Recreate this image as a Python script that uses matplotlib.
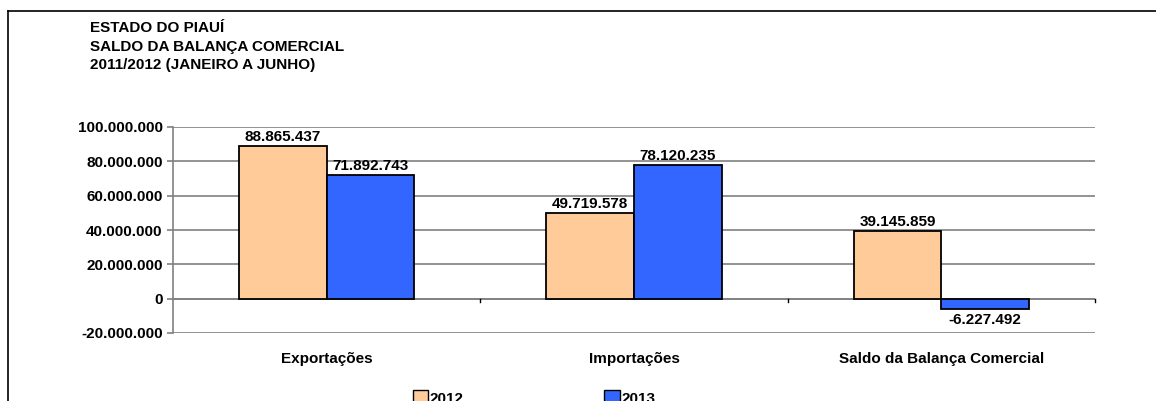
import matplotlib.pyplot as plt
import numpy as np
from matplotlib.ticker import FuncFormatter

plt.rcParams['font.family'] = ['Liberation Sans', 'DejaVu Sans']

categorias = ["Exportações", "Importações", "Saldo da Balança Comercial"]
anos = ["2012", "2013"]
valores_2012 = [88865437, 49719578, 39145859]
valores_2013 = [71892743, 78120235, -6227492]
titulo = ["ESTADO DO PIAUÍ", "SALDO DA BALANÇA COMERCIAL", "2011/2012 (JANEIRO A JUNHO)"]

cores = ["#FFCC99", "#3366FF"]


def fmt_br(v, pos=None):
    # separador de milhar com ponto
    return f"{int(v):,}".replace(",", ".")


fig = plt.figure(figsize=(11.56, 4.01), dpi=100)
ax = fig.add_axes([173 / 1156, 1 - 333 / 401, (1095 - 173) / 1156, (333 - 127) / 401])

x = np.arange(len(categorias))
width = 0.285
b1 = ax.bar(x - width / 2, valores_2012, width, color=cores[0], edgecolor="black",
            linewidth=1.3, label=anos[0], zorder=3)
b2 = ax.bar(x + width / 2, valores_2013, width, color=cores[1], edgecolor="black",
            linewidth=1.3, label=anos[1], zorder=3)

for rects in (b1, b2):
    for r in rects:
        v = r.get_height()
        cx = r.get_x() + r.get_width() / 2
        if v >= 0:
            ax.text(cx, v + 1.2e6, fmt_br(v), ha="center", va="bottom",
                    fontsize=11, fontweight="bold")
        else:
            ax.text(cx, v - 2.4e6, fmt_br(v), ha="center", va="top",
                    fontsize=11, fontweight="bold")

ax.set_xlim(-0.5, 2.5)
ax.set_ylim(-20000000, 100000000)
ax.set_yticks(np.arange(-20000000, 100000001, 20000000))
ax.yaxis.set_major_formatter(FuncFormatter(fmt_br))
ax.grid(axis="y", color="#808080", linewidth=1.2, zorder=0)

for s in ["top", "right", "bottom"]:
    ax.spines[s].set_visible(False)
ax.spines["left"].set_color("#808080")
ax.spines["left"].set_linewidth(1.2)
ax.axhline(0, color="#808080", linewidth=1.2, zorder=1)

ax.set_xticks(x)
ax.set_xticklabels(categorias, fontsize=11, fontweight="bold")
ax.tick_params(axis="x", length=0, pad=14)
ax.tick_params(axis="y", length=4, color="#808080", labelsize=11, width=1.2)
for t in ax.get_yticklabels():
    t.set_fontweight("bold")

# marcas entre categorias na linha do zero
for xb in [0.5, 1.5, 2.5]:
    ax.plot([xb, xb], [0, -2200000], color="black", linewidth=1, zorder=2, clip_on=False)

for i, linha in enumerate(titulo):
    fig.text(90 / 1156, 1 - (27.5 + i * 19) / 401, linha, fontsize=11,
             fontweight="bold", va="center")

# legenda
handles = [plt.Rectangle((0, 0), 1, 1, facecolor=c, edgecolor="black") for c in cores]
fig.legend(handles, anos, loc="center", bbox_to_anchor=(534 / 1156, 1 - 398 / 401),
           ncol=2, frameon=False, prop={"weight": "bold", "size": 11},
           handlelength=1.0, handleheight=1.0, handletextpad=0.1, columnspacing=9.2)

# moldura
fig.add_artist(plt.Line2D([8 / 1156, 8 / 1156], [0, 1 - 11 / 401], color="black", linewidth=1.2))
fig.add_artist(plt.Line2D([8 / 1156, 1], [1 - 11 / 401, 1 - 11 / 401], color="black", linewidth=1.2))

fig.savefig("out.png", dpi=100)
